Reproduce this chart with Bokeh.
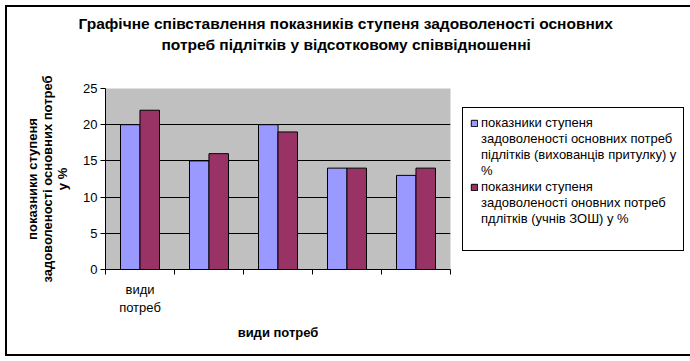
from bokeh.plotting import figure
from bokeh.models import (Range1d, FixedTicker, ColumnDataSource, Title, LinearAxis,
                          Legend, LegendItem)
from bokeh.embed import file_html
from bokeh.resources import INLINE
import numpy as np

# ---- data ----
categories = ["види\nпотреб", "", "", "", ""]
series_shelter = [20, 15, 20, 14, 13]
series_school = [22, 16, 19, 14, 14]
series_names = [
    ["показники ступеня", "задоволеності основних потреб", "підлітків (вихованців притулку) у", "%"],
    ["показники ступеня", "задоволеності оновних потреб", "пдлітків (учнів ЗОШ) у %"],
]
y_ticks = [0, 5, 10, 15, 20, 25]
title_lines = ["Графічне співставлення показників ступеня задоволеності основних",
               "потреб підлітків у відсотковому співвідношенні"]
y_title_lines = ["показники ступеня", "задоволеності основних потреб", "у %"]
x_title = "види потреб"

BLUE = "#9999FF"
MAROON = "#993366"
FONT = "Liberation Sans"

# ---- layout (canvas pixels) ----
W, H = 690, 361
FL, FT, FW, FH = 105, 88, 345, 181
N = len(categories)
YMAX = 25

p = figure(frame_width=FW, frame_height=FH, output_backend="svg", toolbar_location=None, title=None,
           x_range=Range1d(0, N), y_range=Range1d(0, YMAX),
           min_border_left=FL, min_border_top=FT,
           min_border_right=W - FL - FW, min_border_bottom=H - FT - FH,
           background_fill_color="#C0C0C0", border_fill_color="white", border_fill_alpha=0,
           styles={"outline": "2px solid black", "outline-offset": "-7px",
                   "box-shadow": "inset 0 0 0 5px white, inset 0 0 0 7px black"})
p.outline_line_color = None

idx = np.arange(N)
bw = 0.283
off = 0.141
src = ColumnDataSource(dict(x1=idx + 0.5 - off, x2=idx + 0.5 + off,
                            a=series_shelter, b=series_school))
r1 = p.vbar(x="x1", top="a", width=bw, source=src, fill_color=BLUE, line_color="black", line_width=1)
r2 = p.vbar(x="x2", top="b", width=bw, source=src, fill_color=MAROON, line_color="black", line_width=1)
blank = p.vbar(x=[], top=[], width=bw, fill_alpha=0, line_alpha=0)

# grid
p.xgrid.visible = False
p.ygrid.ticker = FixedTicker(ticks=[t for t in y_ticks if 0 < t < YMAX])
p.ygrid.grid_line_color = "black"
p.ygrid.grid_line_alpha = 1

# y axis
p.yaxis.ticker = FixedTicker(ticks=y_ticks)
p.yaxis.major_tick_out = 5
p.yaxis.major_tick_in = 0
p.yaxis.minor_tick_line_color = None
p.yaxis.major_label_text_font = FONT
p.yaxis.major_label_text_font_size = "13px"
p.yaxis.major_label_text_color = "black"
p.yaxis.major_label_standoff = 3
p.yaxis.axis_line_color = "black"
p.yaxis.axis_label = "\n".join(y_title_lines)
p.yaxis.axis_label_text_font = FONT
p.yaxis.axis_label_text_font_size = "13px"
p.yaxis.axis_label_text_font_style = "bold"
p.yaxis.axis_label_text_color = "black"
p.yaxis.axis_label_text_line_height = 1.0
p.yaxis.axis_label_standoff = 10

# x axis: tick marks at category boundaries
p.xaxis.ticker = FixedTicker(ticks=list(range(N + 1)))
p.xaxis.major_label_overrides = {i: "" for i in range(N + 1)}
p.xaxis.major_label_text_font_size = "0px"
p.xaxis.major_label_standoff = 0
p.xaxis.major_tick_out = 5
p.xaxis.major_tick_in = 0
p.xaxis.minor_tick_line_color = None
p.xaxis.axis_line_color = "black"

# x axis: category labels at group centres
centers = [i + 0.5 for i in range(N)]
ax2 = LinearAxis(ticker=FixedTicker(ticks=centers),
                 major_label_overrides={c: lab for c, lab in zip(centers, categories)},
                 major_tick_line_color=None, minor_tick_line_color=None, axis_line_color=None,
                 major_label_text_font=FONT, major_label_text_font_size="13px",
                 major_label_text_color="black", major_label_standoff=1,
                 axis_label=x_title, axis_label_text_font=FONT, axis_label_text_font_size="13px",
                 axis_label_text_font_style="bold", axis_label_text_color="black",
                 axis_label_standoff=7)
p.add_layout(ax2, "below")

# title lines (first added is closest to the frame); left-aligned with offsets from frame left
spacer = Title(text=" ", standoff=16, text_font=FONT, text_font_size="15.5px")
t2 = Title(text=title_lines[1], align="left", offset=56, standoff=2,
           text_font=FONT, text_font_size="15.5px", text_font_style="bold", text_color="black")
t1 = Title(text=title_lines[0], align="left", offset=-27, standoff=2,
           text_font=FONT, text_font_size="15.5px", text_font_style="bold", text_color="black")
p.add_layout(spacer, "above")
p.add_layout(t2, "above")
p.add_layout(t1, "above")

# legend: one item per text line
items = []
for k, r in enumerate([r1, r2]):
    for j, line in enumerate(series_names[k]):
        items.append(LegendItem(label=line, renderers=[r if j == 0 else blank]))
items.append(LegendItem(label=" ", renderers=[blank]))
legend = Legend(items=items, location="left", margin=12, padding=7, spacing=0,
                label_height=16, glyph_height=8, glyph_width=8, label_standoff=3,
                label_text_font=FONT, label_text_font_size="13px", label_text_color="black",
                border_line_color="black", border_line_width=1.5, border_line_alpha=1,
                background_fill_color="white", background_fill_alpha=1)
p.add_layout(legend, "right")

open("out.html", "w").write(file_html(p, INLINE))
